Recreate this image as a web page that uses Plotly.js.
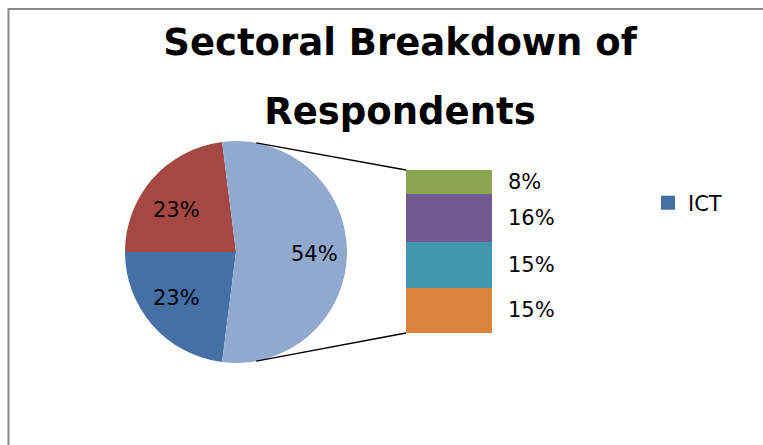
<!DOCTYPE html>
<html><head><meta charset="utf-8">
<script src="https://cdn.plot.ly/plotly-3.0.1.min.js"></script>
<style>html,body{margin:0;padding:0;background:#fff}#chart{width:763px;height:445px}</style>
</head><body><div id="chart"></div>
<script>
// ---- data ----
const mainLabels = ['ICT', 'Sector 2'];
const mainValues = [23, 23];
const otherLabel = 'Other sectors';
// secondary stack, listed bottom -> top
const secondaryLabels = ['Sector 6', 'Sector 5', 'Sector 4', 'Sector 3'];
const secondaryValues = [15, 15, 16, 8];
const legendLabels = ['ICT'];
const titleLines = ['Sectoral Breakdown of', 'Respondents'];

// ---- styles ----
const mainColors = ['#4470A5', '#A54742'];
const otherColor = '#92A9CF';
const secondaryColors = ['#DB843D', '#4197AD', '#715991', '#8AA54F'];
const FONT = '"DejaVu Sans", "Liberation Sans", sans-serif';

// ---- geometry (pixels) ----
const W = 763, H = 445;
const px = x => x / W, py = y => 1 - y / H;
const pieCx = 236, pieCy = 252, pieR = 111;
const barL = 406, barR = 492, barT = 170, barB = 333;
const connAngle = 10.5 * Math.PI / 180;
const labelRx = 0.71, labelRy = 0.6;

const otherValue = secondaryValues.reduce((a, b) => a + b, 0);
const pieValues = mainValues.concat([otherValue]);
const pieLabels = mainLabels.concat([otherLabel]);
const pieColors = mainColors.concat([otherColor]);
const total = pieValues.reduce((a, b) => a + b, 0);
const rotationDeg = 90 + (otherValue / total * 360) / 2;

const traces = [{
  type: 'pie',
  labels: pieLabels,
  values: pieValues,
  sort: false,
  direction: 'clockwise',
  rotation: rotationDeg - 360,
  marker: {colors: pieColors, line: {width: 0}},
  textinfo: 'none',
  domain: {x: [px(pieCx - pieR), px(pieCx + pieR)], y: [py(pieCy + pieR), py(pieCy - pieR)]},
  showlegend: false,
  hoverinfo: 'label+percent'
}];

secondaryValues.forEach((v, i) => {
  traces.push({
    type: 'bar', x: [0], y: [v], width: [1], name: secondaryLabels[i],
    marker: {color: secondaryColors[i], line: {width: 0}},
    showlegend: false, xaxis: 'x', yaxis: 'y', hoverinfo: 'name+y'
  });
});

traces.push({
  type: 'scatter', mode: 'markers', x: [null], y: [null], name: legendLabels[0],
  marker: {symbol: 'square', size: 14, color: mainColors[0]}, showlegend: true
});

const annotations = [];
// pie percentage labels
let angAcc = rotationDeg;
pieValues.forEach((v, i) => {
  const span = v / total * 360;
  const mid = (angAcc + span / 2) * Math.PI / 180;
  angAcc += span;
  const lx = pieCx + labelRx * pieR * Math.sin(mid);
  const ly = pieCy + 2 - labelRy * pieR * Math.cos(mid);
  annotations.push({
    xref: 'paper', yref: 'paper', x: px(lx), y: py(ly), xanchor: 'center', yanchor: 'middle',
    text: Math.round(v / total * 100) + '%', showarrow: false,
    font: {family: FONT, size: 21, color: '#000'}
  });
});
// secondary bar labels
let cum = 0;
secondaryValues.forEach(v => {
  annotations.push({
    xref: 'x', yref: 'y', x: 0.5, y: cum + v / 2, xanchor: 'left', yanchor: 'middle',
    xshift: 14, text: v + '%', showarrow: false, font: {family: FONT, size: 21, color: '#000'}
  });
  cum += v;
});

const shapes = [
  {type: 'rect', xref: 'paper', yref: 'paper', x0: px(8.5), x1: 1.2, y0: -0.2, y1: py(9),
   line: {color: '#8a8a8a', width: 2}, fillcolor: 'rgba(0,0,0,0)'},
  {type: 'line', xref: 'paper', yref: 'paper',
   x0: px(pieCx + pieR * Math.sin(connAngle)), y0: py(pieCy - pieR * Math.cos(connAngle)),
   x1: px(barL), y1: py(barT), line: {color: '#000', width: 1.3}},
  {type: 'line', xref: 'paper', yref: 'paper',
   x0: px(pieCx + pieR * Math.sin(connAngle)), y0: py(pieCy + pieR * Math.cos(connAngle)),
   x1: px(barL), y1: py(barB), line: {color: '#000', width: 1.3}}
];

const layout = {
  width: W, height: H,
  margin: {l: 0, r: 0, t: 0, b: 0},
  paper_bgcolor: '#fff', plot_bgcolor: 'rgba(0,0,0,0)',
  font: {family: FONT, color: '#000'},
  title: {
    text: titleLines.map(t => '<span style="font-size:37px">' + t + '</span>').join('<br>'),
    font: {family: FONT, size: 53, weight: 'bold', color: '#000'},
    x: px(400), xanchor: 'center', xref: 'paper', y: py(55), yanchor: 'top', yref: 'paper'
  },
  xaxis: {domain: [px(barL), px(barR)], range: [-0.5, 0.5], visible: false, fixedrange: true},
  yaxis: {domain: [py(barB), py(barT)], range: [0, otherValue], visible: false, fixedrange: true},
  barmode: 'stack', bargap: 0,
  showlegend: true,
  legend: {x: px(648), y: py(203), xanchor: 'left', yanchor: 'middle', font: {family: FONT, size: 21, color: '#000'},
           bgcolor: 'rgba(0,0,0,0)', borderwidth: 0},
  annotations: annotations,
  shapes: shapes
};

Plotly.newPlot('chart', traces, layout, {displayModeBar: false, staticPlot: true});
</script>
</body></html>
